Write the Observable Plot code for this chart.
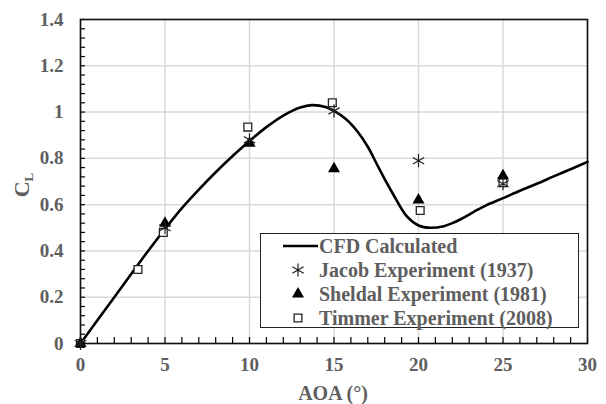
<!DOCTYPE html>
<html><head><meta charset="utf-8">
<script src="https://cdn.jsdelivr.net/npm/d3@7"></script>
<script src="https://cdn.jsdelivr.net/npm/@observablehq/plot@0.6"></script>
<style>
body{margin:0;background:#fff;}
#wrap{position:relative;width:606px;height:404px;font-family:"Liberation Serif","Times New Roman",Times,serif;font-weight:bold;color:#5e5e5e;}
#legend{position:absolute;left:260px;top:233px;width:317px;height:93px;border:1.5px solid #222;background:#fff;}
.row{position:absolute;left:0;height:24px;width:317px;}
.row svg{position:absolute;left:0;top:0;}
.row span{position:absolute;left:58px;top:0;line-height:24px;font-size:20px;white-space:nowrap;}
#ytitle{position:absolute;left:23px;top:185px;transform:translate(-50%,-50%) rotate(-90deg);font-size:22px;white-space:nowrap;}
#ytitle sub{font-size:13px;vertical-align:-4px;}
#xtitle{position:absolute;left:333px;top:393px;transform:translate(-50%,-50%);font-size:20px;white-space:nowrap;}
</style></head><body><div id="wrap"></div>
<script>
// CFD calculated curve
const cfdAoa = [0, 1, 2, 3, 4, 5, 6, 7, 8, 9, 10, 11, 12, 13, 13.7, 14.5, 15, 15.7, 16.4, 17, 17.5, 18, 18.5, 19.3, 20, 20.7, 21.5, 22, 22.5, 23, 23.5, 24, 25, 26, 27, 28, 29, 30];
const cfdCl  = [0, 0.10, 0.20, 0.30, 0.40, 0.495, 0.585, 0.665, 0.74, 0.81, 0.875, 0.935, 0.985, 1.02, 1.03, 1.022, 1.005, 0.97, 0.915, 0.85, 0.78, 0.71, 0.645, 0.55, 0.51, 0.5, 0.507, 0.52, 0.537, 0.557, 0.578, 0.597, 0.628, 0.66, 0.69, 0.722, 0.753, 0.785];
// Jacob Experiment (1937)
const jacobAoa = [0, 5, 10, 15, 20, 25];
const jacobCl  = [0, 0.50, 0.88, 1.005, 0.79, 0.69];
// Sheldal Experiment (1981)
const sheldalAoa = [0, 5, 10, 15, 20, 25];
const sheldalCl  = [0, 0.52, 0.865, 0.755, 0.62, 0.725];
// Timmer Experiment (2008)
const timmerAoa = [0, 3.4, 4.9, 9.9, 14.9, 20.1, 25];
const timmerCl  = [0, 0.32, 0.48, 0.935, 1.04, 0.575, 0.695];
// axes
const xDomain = [0, 30];
const yDomain = [0, 1.4];
const xTicks = [0, 5, 10, 15, 20, 25, 30];
const yTicks = [0, 0.2, 0.4, 0.6, 0.8, 1, 1.2, 1.4];
const xMinor = d3.range(0, 31, 1);
const yMinor = d3.range(0, 36, 1).map(i => +(i * 0.04).toFixed(2));
const seriesNames = ["CFD Calculated", "Jacob Experiment (1937)", "Sheldal Experiment (1981)", "Timmer Experiment (2008)"];

const zip = (a, b) => a.map((x, i) => ({aoa: x, cl: b[i]}));
const cfd = zip(cfdAoa, cfdCl), jacob = zip(jacobAoa, jacobCl), sheldal = zip(sheldalAoa, sheldalCl), timmer = zip(timmerAoa, timmerCl);

const labelStyle = {fontFamily: '"Liberation Serif","Times New Roman",Times,serif', fontWeight: "bold", fill: "#5e5e5e", fontSize: 19};

const chart = Plot.plot({
  width: 606, height: 404,
  marginLeft: 80, marginRight: 19, marginTop: 19, marginBottom: 61,
  style: {fontFamily: '"Liberation Serif",serif', background: "#fff", overflow: "visible", color: "#5e5e5e"},
  x: {domain: xDomain},
  y: {domain: yDomain},
  marks: [
    Plot.gridX(xTicks, {stroke: "#d9d9d9", strokeOpacity: 1, strokeWidth: 1.5}),
    Plot.gridY(yTicks, {stroke: "#d9d9d9", strokeOpacity: 1, strokeWidth: 1.5}),
    Plot.ruleX(xMinor, {x: d => d, y1: yDomain[0], y2: yDomain[0], insetTop: -6, stroke: "#000", strokeWidth: 1.2}),
    Plot.ruleY(yMinor, {y: d => d, x1: xDomain[0], x2: xDomain[0], insetRight: -5, stroke: "#000", strokeWidth: 1.2}),
    Plot.axisX(xTicks, {tickSize: 0, tickPadding: 14, label: null, tickFormat: d => String(d), ...labelStyle}),
    Plot.axisY(yTicks, {tickSize: 0, tickPadding: 17, label: null, tickFormat: d => String(d), ...labelStyle}),
    Plot.frame({stroke: "#111", strokeWidth: 1.6}),
    Plot.line(cfd, {x: "aoa", y: "cl", curve: "catmull-rom", stroke: "#000", strokeWidth: 2.6}),
    Plot.dot(timmer, {x: "aoa", y: "cl", symbol: "square", r: 4.4, stroke: "#222", strokeWidth: 1.3, fill: "#fff"}),
    Plot.dot(sheldal, {x: "aoa", y: "cl", symbol: "triangle", r: 4.5, fill: "#000", stroke: "none"}),
    Plot.dot(jacob, {x: "aoa", y: "cl", symbol: "asterisk", r: 6.2, stroke: "#222", strokeWidth: 1.2})
  ]
});

const wrap = document.getElementById("wrap");
wrap.appendChild(chart);

// axis titles
const yt = document.createElement("div"); yt.id = "ytitle"; yt.innerHTML = "C<sub>L</sub>"; wrap.appendChild(yt);
const xt = document.createElement("div"); xt.id = "xtitle"; xt.textContent = "AOA (°)"; wrap.appendChild(xt);

// legend
const legend = document.createElement("div"); legend.id = "legend"; wrap.appendChild(legend);
const rowTops = [0, 24, 48, 72];
const symbolFor = [null, d3.symbolAsterisk, d3.symbolTriangle, d3.symbolSquare];
const sizeFor = [0, Math.PI * 6.2 * 6.2, Math.PI * 4.5 * 4.5, Math.PI * 4.4 * 4.4];
seriesNames.forEach((name, i) => {
  const row = document.createElement("div"); row.className = "row"; row.style.top = rowTops[i] + "px";
  const svg = d3.create("svg").attr("width", 58).attr("height", 24);
  if (i === 0) {
    svg.append("line").attr("x1", 22).attr("x2", 57).attr("y1", 12).attr("y2", 12).attr("stroke", "#000").attr("stroke-width", 2.6);
  } else {
    const p = svg.append("path").attr("transform", "translate(37,12)").attr("d", d3.symbol(symbolFor[i], sizeFor[i])());
    if (i === 1) p.attr("fill", "none").attr("stroke", "#222").attr("stroke-width", 1.2);
    if (i === 2) p.attr("fill", "#000");
    if (i === 3) p.attr("fill", "#fff").attr("stroke", "#222").attr("stroke-width", 1.3);
  }
  row.appendChild(svg.node());
  const sp = document.createElement("span"); sp.textContent = name; row.appendChild(sp);
  legend.appendChild(row);
});
</script>
</body></html>
